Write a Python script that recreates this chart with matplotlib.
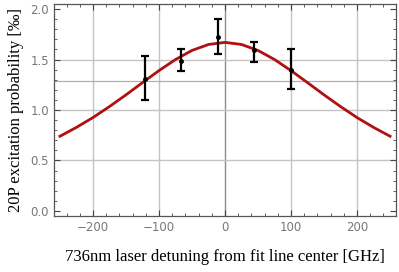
import matplotlib
matplotlib.use("Agg")
import matplotlib.pyplot as plt
from matplotlib.ticker import MultipleLocator

# Measured points
det = [-121, -66, -11, 44, 100]
prob = [1.31, 1.49, 1.72, 1.59, 1.40]
err_lo = [0.21, 0.10, 0.17, 0.11, 0.19]
err_hi = [0.22, 0.11, 0.18, 0.08, 0.20]

# Fit curve
fit_x = [-250, -225, -200, -175, -150, -125, -100, -75, -50, -25, 0,
         25, 50, 75, 100, 125, 150, 175, 200, 225, 250]
fit_y = [0.740, 0.828, 0.925, 1.034, 1.150, 1.271, 1.390, 1.500, 1.590, 1.649, 1.670,
         1.649, 1.590, 1.500, 1.390, 1.271, 1.150, 1.034, 0.925, 0.828, 0.740]

xticks = [-200, -100, 0, 100, 200]
yticks = [0.0, 0.5, 1.0, 1.5, 2.0]
ref_level = 1.29

fig = plt.figure(figsize=(3.99, 2.72), dpi=100)
ax = fig.add_axes([54/399, 56/272, 342/399, 212/272])

for xv in xticks:
    ax.axvline(xv, color="#8c8c8c" if xv == 0 else "#c4c4c4", lw=1.0, zorder=0)
for yv in [0.5, 1.0, 1.5]:
    ax.axhline(yv, color="#c4c4c4", lw=1.0, zorder=0)
ax.axhline(ref_level, color="#b0b0b0", lw=0.9, zorder=0)

ax.plot(fit_x, fit_y, color="#b01010", lw=2.0, zorder=2)
ax.errorbar(det, prob, yerr=[err_lo, err_hi], fmt="o", ms=2.5, color="black",
            ecolor="black", elinewidth=1.6, capsize=3, capthick=1.6, zorder=3)

ax.set_xlim(-259, 259)
ax.set_ylim(-0.05, 2.05)
ax.set_xticks(xticks)
ax.set_yticks(yticks)
ax.set_xticklabels([f"\u2212{abs(v)}" if v < 0 else str(v) for v in xticks])
ax.set_yticklabels([f"{v:.1f}" for v in yticks])
ax.xaxis.set_minor_locator(MultipleLocator(20))
ax.yaxis.set_minor_locator(MultipleLocator(0.1))
ax.tick_params(which="both", direction="in", top=True, right=True, color="#444444",
               labelcolor="#777777", labelsize=8.5)
ax.tick_params(which="major", length=4, width=0.8)
ax.tick_params(which="minor", length=2.5, width=0.6)
for s in ax.spines.values():
    s.set_color("#555555")
    s.set_linewidth(0.9)

ax.set_xlabel("736nm laser detuning from fit line center [GHz]",
              family="Liberation Serif", fontsize=12, labelpad=11)
ax.set_ylabel("20P excitation probability [\u2030]",
              family="Liberation Serif", fontsize=12, labelpad=5)

fig.savefig("out.png", dpi=100)
